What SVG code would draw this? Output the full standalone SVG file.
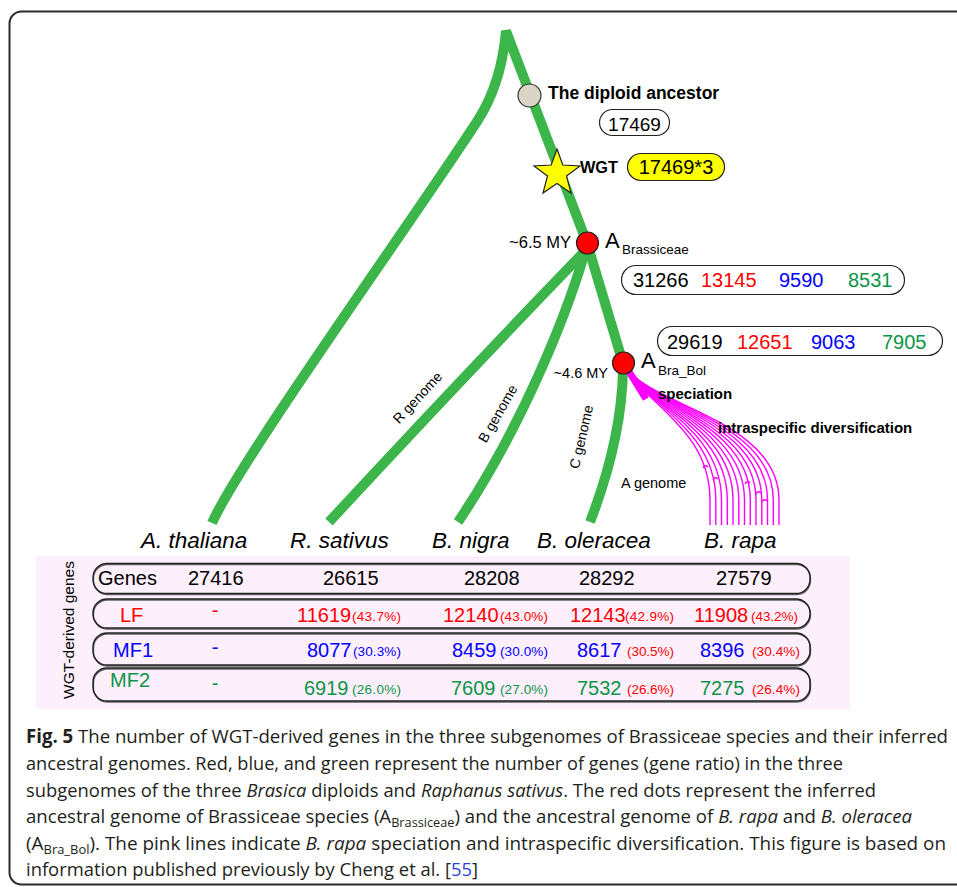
<svg xmlns="http://www.w3.org/2000/svg" width="957" height="887" viewBox="0 0 957 887">
<style>
.br{fill:none;stroke:#3cb64b;stroke-width:10;stroke-linecap:butt}
.mg{fill:none;stroke:#ff00ff;stroke-width:1.4}
.lb{font-family:"Liberation Sans",Arial,sans-serif;fill:#000}
.b{font-weight:bold}
.sp{font-family:"Liberation Sans",Arial,sans-serif;font-style:italic;font-size:22.5px;fill:#000}
.pill{fill:none;stroke:#222;stroke-width:1.4}
.sh{fill:none;stroke:#666;stroke-width:1.4}
.num{font-family:"Liberation Sans",Arial,sans-serif;font-size:20px}
.pct{font-family:"Liberation Sans",Arial,sans-serif;font-size:13.5px}
.r{fill:#ff0000}.bl{fill:#0000ff}.g{fill:#0c9448}.k{fill:#000}
.cap{font-family:"Open Sans","Noto Sans",sans-serif;font-size:19px;fill:#231f20}
.it{font-style:italic}
</style>
<rect x="9.5" y="11.5" width="1000" height="873" rx="12" fill="#fff" stroke="#2a2a2a" stroke-width="2"/>

<g id="connectors">
  <path class="br" d="M212,523 C240,460 420,210 478,120 C494,95 503,65 506,31 L587,243" stroke-linejoin="bevel"/>
  <path class="br" d="M586,250 Q465,375 329,522"/>
  <path class="br" d="M585,252 C565,320 520,430 458,522"/>
  <path class="br" d="M587,243 L623,363"/>
  <path class="br" d="M623,370 C622,420 610,470 590,522"/>
  <path d="M625,365 L646,399" fill="none" stroke="#ff00ff" stroke-width="7"/>
  <g id="rapa-lines">
    <path class="mg" d="M627,368 C646,405 710,430 710,500 V525"/>
    <path class="mg" d="M627,368 C646.3,405 715.8,429 715.8,500 V525"/>
    <path class="mg" d="M627,368 C646.6,405 721.5,428.4 721.5,500 V525"/>
    <path class="mg" d="M627,368 C646.9,405 727.3,427.6 727.3,500 V525"/>
    <path class="mg" d="M627,368 C647.2,405 733,426.8 733,500 V525"/>
    <path class="mg" d="M627,368 C647.5,405 738.8,426 738.8,500 V525"/>
    <path class="mg" d="M627,368 C647.8,405 744.5,425.2 744.5,500 V525"/>
    <path class="mg" d="M627,368 C648.1,405 750.3,424.4 750.3,500 V525"/>
    <path class="mg" d="M627,368 C648.4,405 756,423.6 756,500 V525"/>
    <path class="mg" d="M627,368 C648.7,405 761.8,422.8 761.8,500 V525"/>
    <path class="mg" d="M627,368 C649,405 767.5,422 767.5,500 V525"/>
    <path class="mg" d="M627,368 C649.3,405 773.3,421.2 773.3,500 V525"/>
    <path class="mg" d="M627,368 C649.6,405 779,420.4 779,500 V525"/>
    <path class="mg" stroke-width="1" d="M703,468 q2,-4 5,-1"/>
    <path class="mg" stroke-width="1" d="M713,480 q2,-4 5,-1"/>
    <path class="mg" stroke-width="1" d="M745,484 q2,-4 5,-1"/>
    <path class="mg" stroke-width="1" d="M756,494 q2,-4 5,-1"/>
    <path class="mg" stroke-width="1" d="M762,502 q2,-4 5,-1"/>
  </g>
</g>

<g id="diploid-ancestor">
  <circle cx="529.5" cy="95.5" r="11.5" fill="#d8d5c4" stroke="#333" stroke-width="1.2"/>
  <text class="lb b" x="548" y="99" font-size="17.5">The diploid ancestor</text>
  <rect x="599.5" y="109.5" width="70" height="26" rx="13" fill="#fff" stroke="#222" stroke-width="1.2"/>
  <text class="lb" x="634.5" y="130.5" font-size="19" text-anchor="middle">17469</text>
</g>

<g id="wgt">
  <polygon points="557,149 562.8,165 580,166 566.5,176 571,193 557,183.5 543,193 547.5,176 534,166 551.2,165" fill="#ffff00" stroke="#222" stroke-width="1.2"/>
  <text class="lb b" x="580" y="173" font-size="16.3">WGT</text>
  <rect x="627.5" y="153.5" width="97" height="27" rx="13.5" fill="#ffff00" stroke="#222" stroke-width="1.2"/>
  <text class="lb" x="676" y="174" font-size="20" text-anchor="middle">17469*3</text>
</g>

<g id="a-brassiceae">
  <circle cx="587.5" cy="243" r="11" fill="#ff0000" stroke="#222" stroke-width="1.2"/>
  <text class="lb" x="571" y="248" font-size="16.5" text-anchor="end">~6.5 MY</text>
  <text class="lb" x="605" y="248" font-size="22">A</text>
  <text class="lb" x="622" y="254" font-size="13.5">Brassiceae</text>
  <rect x="621.5" y="265.5" width="283" height="29" rx="14.5" fill="#fff" stroke="#222" stroke-width="1.2"/>
  <text class="num k" x="633" y="287">31266</text>
  <text class="num r" x="701" y="287">13145</text>
  <text class="num bl" x="779" y="287">9590</text>
  <text class="num g" x="848" y="287">8531</text>
</g>

<g id="a-bra-bol">
  <circle cx="623.5" cy="363" r="11" fill="#ff0000" stroke="#222" stroke-width="1.2"/>
  <text class="lb" x="608" y="378" font-size="14.5" text-anchor="end">~4.6 MY</text>
  <text class="lb" x="641" y="368" font-size="22">A</text>
  <text class="lb" x="658" y="375" font-size="13.5">Bra_Bol</text>
  <rect x="657.5" y="326.5" width="285" height="29" rx="14.5" fill="#fff" stroke="#222" stroke-width="1.2"/>
  <text class="num k" x="667" y="349">29619</text>
  <text class="num r" x="737" y="349">12651</text>
  <text class="num bl" x="811" y="349">9063</text>
  <text class="num g" x="882" y="349">7905</text>
</g>

<g id="branch-labels">
  <text class="lb" font-size="14" text-anchor="middle" transform="translate(421,401) rotate(-47)">R genome</text>
  <text class="lb" font-size="14" text-anchor="middle" transform="translate(502,416) rotate(-60)">B genome</text>
  <text class="lb" font-size="14" text-anchor="middle" transform="translate(586,438) rotate(-77)">C genome</text>
  <text class="lb" x="621" y="488" font-size="14.5">A genome</text>
  <text class="lb b" x="658" y="399" font-size="15">speciation</text>
  <text class="lb b" x="718" y="433" font-size="15">intraspecific diversification</text>
</g>

<g id="species">
  <text class="sp" x="141" y="548">A. thaliana</text>
  <text class="sp" x="290" y="548">R. sativus</text>
  <text class="sp" x="432" y="548">B. nigra</text>
  <text class="sp" x="537" y="548">B. oleracea</text>
  <text class="sp" x="704" y="548">B. rapa</text>
</g>

<g id="table">
  <rect x="36" y="556" width="814" height="153" fill="#fdf0fc"/>
  <text class="lb" font-size="15.5" text-anchor="middle" transform="translate(74,630) rotate(-90)">WGT-derived genes</text>
  <g id="row-genes">
    <rect class="sh" x="93.5" y="564.5" width="717" height="30" rx="14"/>
    <rect class="pill" x="93" y="563.5" width="717" height="30" rx="14"/>
    <text class="num k" x="98" y="585">Genes</text>
    <text class="num k" x="188" y="585">27416</text>
    <text class="num k" x="323" y="585">26615</text>
    <text class="num k" x="464" y="585">28208</text>
    <text class="num k" x="579" y="585">28292</text>
    <text class="num k" x="716" y="585">27579</text>
  </g>
  <g id="row-lf">
    <rect class="sh" x="93.5" y="600" width="717" height="29" rx="14"/>
    <rect class="pill" x="93" y="599" width="717" height="29" rx="14"/>
    <text class="num r" x="120" y="622">LF</text>
    <text class="num r" x="215" y="617" text-anchor="middle">-</text>
    <text class="num r" x="297" y="622">11619</text>
    <text class="pct r" x="352" y="621" textLength="49">(43.7%)</text>
    <text class="num r" x="443" y="622">12140</text>
    <text class="pct r" x="500" y="621" textLength="48">(43.0%)</text>
    <text class="num r" x="570" y="622">12143</text>
    <text class="pct r" x="625" y="621" textLength="49">(42.9%)</text>
    <text class="num r" x="694" y="622">11908</text>
    <text class="pct r" x="751" y="621" textLength="47">(43.2%)</text>
  </g>
  <g id="row-mf1">
    <rect class="sh" x="93.5" y="634" width="717" height="32" rx="14"/>
    <rect class="pill" x="93" y="633" width="717" height="32" rx="14"/>
    <text class="num bl" x="113" y="657">MF1</text>
    <text class="num bl" x="215" y="654" text-anchor="middle">-</text>
    <text class="num bl" x="307" y="657">8077</text>
    <text class="pct bl" x="353" y="656" textLength="48">(30.3%)</text>
    <text class="num bl" x="452" y="657">8459</text>
    <text class="pct bl" x="500" y="656" textLength="48">(30.0%)</text>
    <text class="num bl" x="577" y="657">8617</text>
    <text class="pct r" x="627" y="656" textLength="47">(30.5%)</text>
    <text class="num bl" x="700" y="657">8396</text>
    <text class="pct r" x="752" y="656" textLength="48">(30.4%)</text>
  </g>
  <g id="row-mf2">
    <rect class="sh" x="93.5" y="669" width="717" height="33" rx="14"/>
    <rect class="pill" x="93" y="668" width="717" height="33" rx="14"/>
    <text class="num g" x="110" y="687">MF2</text>
    <text class="num g" x="215" y="690" text-anchor="middle">-</text>
    <text class="num g" x="304" y="695">6919</text>
    <text class="pct g" x="352" y="694" textLength="49">(26.0%)</text>
    <text class="num g" x="451" y="695">7609</text>
    <text class="pct g" x="500" y="694" textLength="48">(27.0%)</text>
    <text class="num g" x="577" y="695">7532</text>
    <text class="pct r" x="627" y="694" textLength="47">(26.6%)</text>
    <text class="num g" x="700" y="695">7275</text>
    <text class="pct r" x="752" y="694" textLength="48">(26.4%)</text>
  </g>
</g>

<g id="caption">
  <text class="cap" x="26" y="743" textLength="922" lengthAdjust="spacingAndGlyphs"><tspan font-weight="bold">Fig. 5</tspan> The number of WGT-derived genes in the three subgenomes of Brassiceae species and their inferred</text>
  <text class="cap" x="26" y="770" textLength="817" lengthAdjust="spacingAndGlyphs">ancestral genomes. Red, blue, and green represent the number of genes (gene ratio) in the three</text>
  <text class="cap" x="26" y="797" textLength="850" lengthAdjust="spacingAndGlyphs">subgenomes of the three <tspan class="it">Brasica</tspan> diploids and <tspan class="it">Raphanus sativus</tspan>. The red dots represent the inferred</text>
  <text class="cap" x="26" y="823" textLength="886" lengthAdjust="spacingAndGlyphs">ancestral genome of Brassiceae species (A<tspan font-size="13" dy="4">Brassiceae</tspan><tspan dy="-4">) and the ancestral genome of </tspan><tspan class="it">B. rapa</tspan> and <tspan class="it">B. oleracea</tspan></text>
  <text class="cap" x="26" y="850" textLength="920" lengthAdjust="spacingAndGlyphs">(A<tspan font-size="13" dy="4">Bra_Bol</tspan><tspan dy="-4">). The pink lines indicate </tspan><tspan class="it">B. rapa</tspan> speciation and intraspecific diversification. This figure is based on</text>
  <text class="cap" x="26" y="876" textLength="452" lengthAdjust="spacingAndGlyphs">information published previously by Cheng et al. [<tspan fill="#2b3fe0">55</tspan>]</text>
</g>
</svg>
